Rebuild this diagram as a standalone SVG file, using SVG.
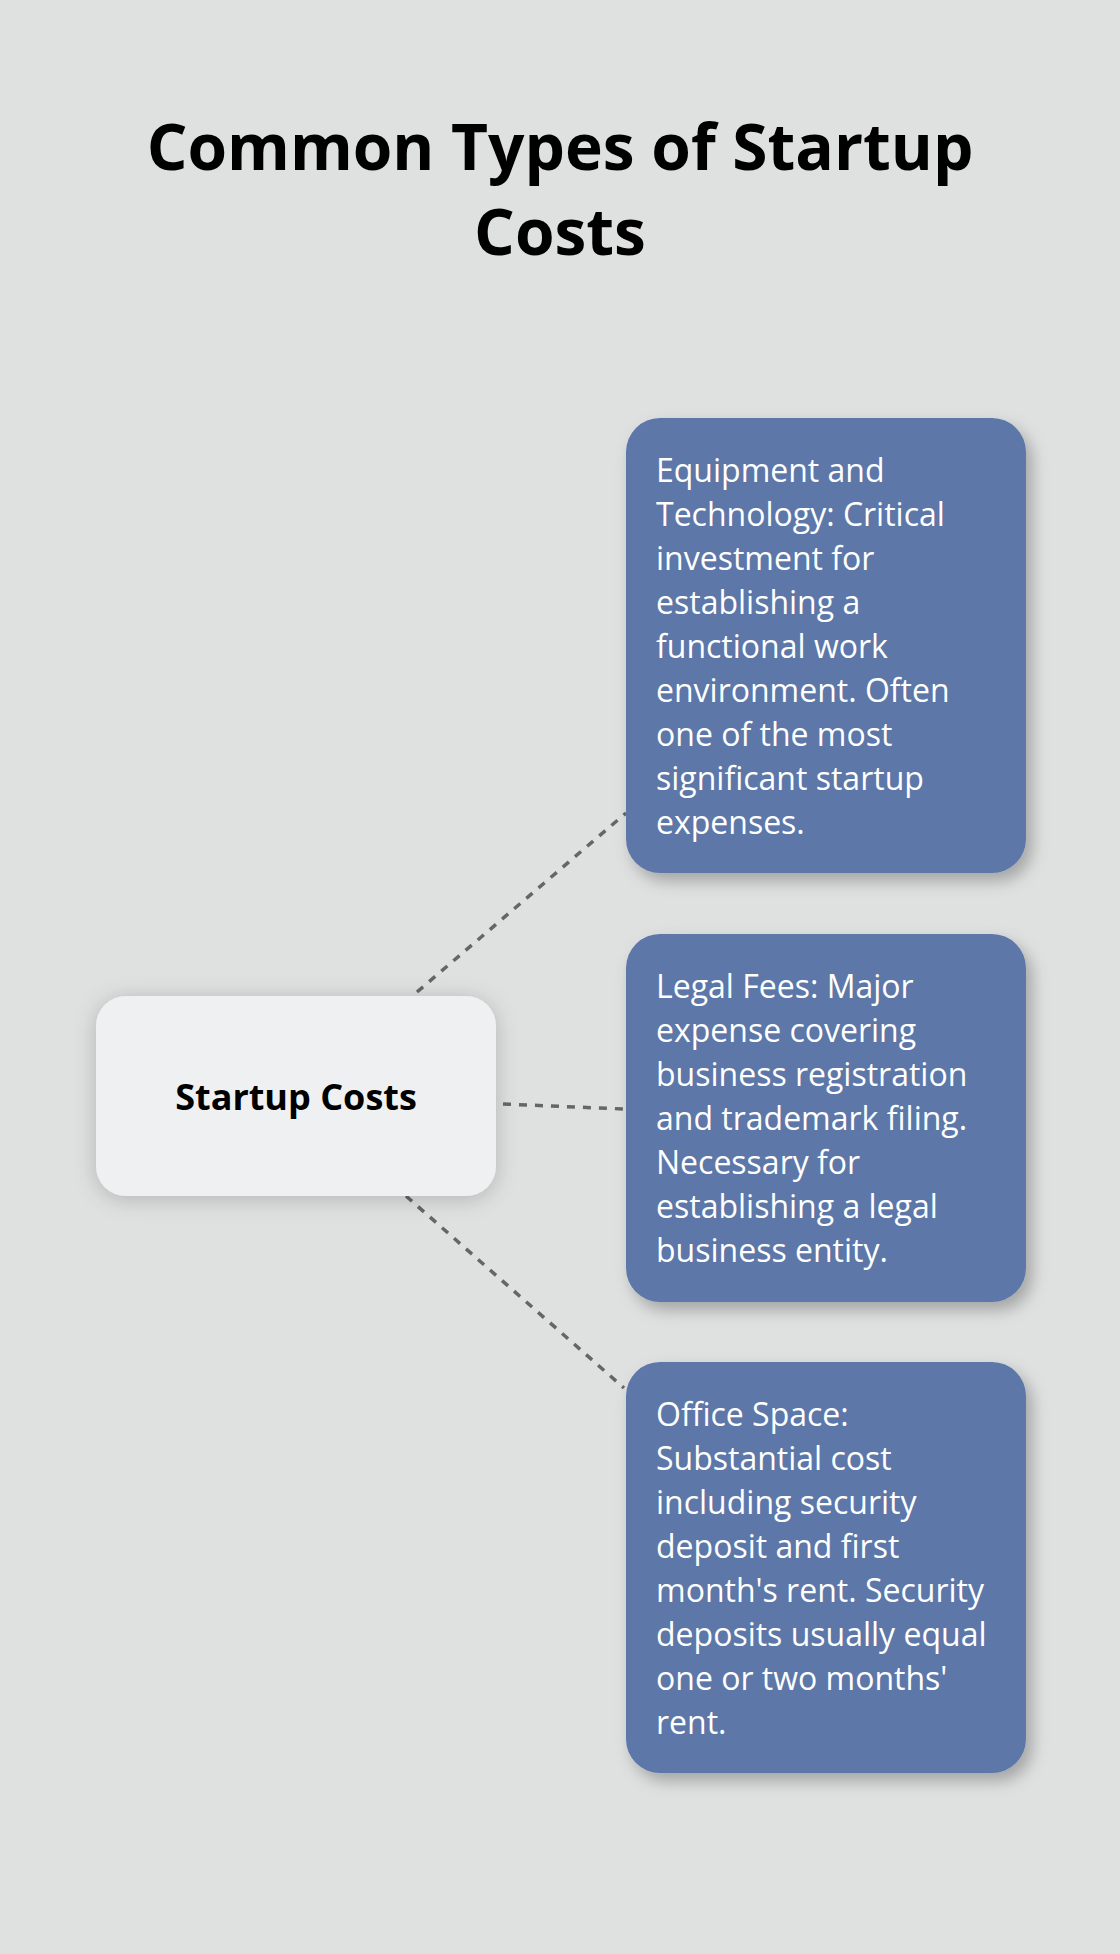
<svg xmlns="http://www.w3.org/2000/svg" width="1120" height="1954" viewBox="0 0 1120 1954">
<style>
.title{font-family:"Open Sans","Liberation Sans",sans-serif;font-weight:700;font-size:64px;fill:#000;text-anchor:middle}
.center{font-family:"Open Sans","Liberation Sans",sans-serif;font-weight:700;font-size:36px;fill:#000;text-anchor:middle}
.body{font-family:"Open Sans","Liberation Sans",sans-serif;font-size:32px;fill:#fff}
.blue{fill:#5C77A8}
.conn{stroke:#666;stroke-width:3.5;stroke-dasharray:8 8;fill:none}
</style>
<defs>
<filter id="shC" x="-20%" y="-30%" width="140%" height="160%">
<feDropShadow dx="0" dy="3" stdDeviation="11" flood-color="#000" flood-opacity="0.2"/>
</filter>
<filter id="shB" x="-20%" y="-20%" width="140%" height="140%">
<feDropShadow dx="6" dy="8" stdDeviation="8" flood-color="#000" flood-opacity="0.27"/>
</filter>
</defs>
<rect width="1120" height="1954" fill="#DFE1E0"/>
<g id="title">
<text class="title" x="560" y="170">Common Types of Startup</text>
<text class="title" x="560" y="255">Costs</text>
</g>
<g id="connectors">
<line class="conn" x1="417" y1="992" x2="626" y2="813"/>
<line class="conn" x1="503" y1="1104" x2="624" y2="1109"/>
<line class="conn" x1="406" y1="1196" x2="624" y2="1388"/>
</g>
<g id="node-center">
<rect x="96" y="996" width="400" height="200" rx="30" fill="#EFF0F2" filter="url(#shC)"/>
<text class="center" x="296" y="1110">Startup Costs</text>
</g>
<g id="node-equipment">
<rect class="blue" x="626" y="418" width="400" height="455" rx="34" filter="url(#shB)"/>
<text class="body" x="656" y="482">
<tspan x="656" y="482">Equipment and</tspan>
<tspan x="656" y="526">Technology: Critical</tspan>
<tspan x="656" y="570">investment for</tspan>
<tspan x="656" y="614">establishing a</tspan>
<tspan x="656" y="658">functional work</tspan>
<tspan x="656" y="702">environment. Often</tspan>
<tspan x="656" y="746">one of the most</tspan>
<tspan x="656" y="790">significant startup</tspan>
<tspan x="656" y="834">expenses.</tspan>
</text>
</g>
<g id="node-legal">
<rect class="blue" x="626" y="934" width="400" height="368" rx="34" filter="url(#shB)"/>
<text class="body" x="656" y="998">
<tspan x="656" y="998">Legal Fees: Major</tspan>
<tspan x="656" y="1042">expense covering</tspan>
<tspan x="656" y="1086">business registration</tspan>
<tspan x="656" y="1130">and trademark filing.</tspan>
<tspan x="656" y="1174">Necessary for</tspan>
<tspan x="656" y="1218">establishing a legal</tspan>
<tspan x="656" y="1262">business entity.</tspan>
</text>
</g>
<g id="node-office">
<rect class="blue" x="626" y="1362" width="400" height="411" rx="34" filter="url(#shB)"/>
<text class="body" x="656" y="1426">
<tspan x="656" y="1426">Office Space:</tspan>
<tspan x="656" y="1470">Substantial cost</tspan>
<tspan x="656" y="1514">including security</tspan>
<tspan x="656" y="1558">deposit and first</tspan>
<tspan x="656" y="1602">month's rent. Security</tspan>
<tspan x="656" y="1646">deposits usually equal</tspan>
<tspan x="656" y="1690">one or two months'</tspan>
<tspan x="656" y="1734">rent.</tspan>
</text>
</g>
</svg>
